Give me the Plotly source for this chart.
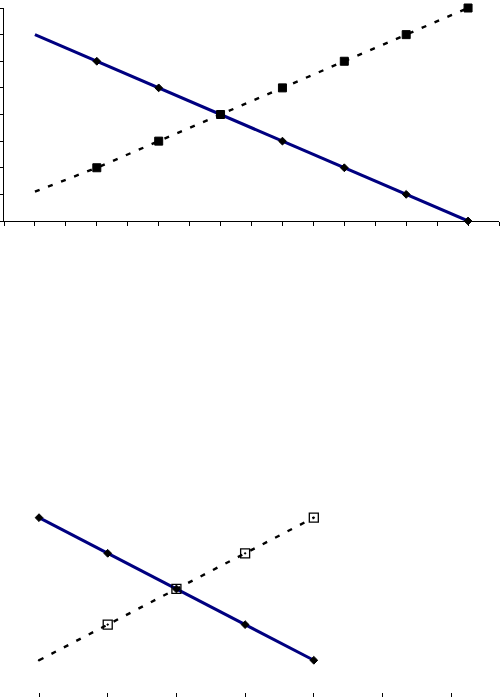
import plotly.graph_objs as go

# upper chart
top_x = [1, 2, 3, 4, 5, 6, 7, 8]
top_down = [7, 6, 5, 4, 3, 2, 1, 0]
top_up = [1.1, 2, 3, 4, 5, 6, 7, 8]

# lower chart
low_x = [1, 2, 3, 4, 5]
low_down = [5, 4, 3, 2, 1]
low_up = [1, 2, 3, 4, 5]

W, H = 500, 697
NAVY = "#000080"
DASH = "5px,9px"

fig = go.Figure()

# first point of each upper series shows no marker
# (opacity set explicitly: an array of sizes makes plotly default to 0.7)
fig.add_trace(go.Scatter(
    x=top_x, y=top_down, mode="lines+markers", cliponaxis=False,
    line=dict(color=NAVY, width=3),
    marker=dict(symbol="diamond", color="black", opacity=1,
                size=[0] + [6] * (len(top_x) - 1),
                line=dict(width=1, color="black")),
    xaxis="x", yaxis="y", showlegend=False
))
fig.add_trace(go.Scatter(
    x=top_x, y=top_up, mode="lines+markers", cliponaxis=False,
    line=dict(color="black", width=2.4, dash=DASH),
    marker=dict(symbol="square", color="black", opacity=1,
                size=[0] + [8] * (len(top_x) - 1),
                line=dict(width=1, color="black")),
    xaxis="x", yaxis="y", showlegend=False
))

fig.add_trace(go.Scatter(
    x=low_x, y=low_down, mode="lines+markers", cliponaxis=False,
    line=dict(color=NAVY, width=3),
    marker=dict(symbol="diamond", color="black", size=6, opacity=1,
                line=dict(width=1, color="black")),
    xaxis="x2", yaxis="y2", showlegend=False
))
fig.add_trace(go.Scatter(
    x=low_x, y=low_up, mode="lines+markers", cliponaxis=False,
    line=dict(color="black", width=2.4, dash=DASH),
    marker=dict(symbol="square-open-dot", color="black", opacity=1,
                size=[0] + [9] * (len(low_x) - 1),
                line=dict(width=1.3, color="black")),
    xaxis="x2", yaxis="y2", showlegend=False
))

fig.update_layout(
    width=W, height=H,
    margin=dict(l=0, r=0, t=0, b=0),
    paper_bgcolor="white", plot_bgcolor="white",
    xaxis=dict(
        domain=[4 / W, 499 / W], range=[0.5, 8.5],
        showgrid=False, zeroline=False, showticklabels=False,
        showline=True, linecolor="black", linewidth=1,
        ticks="outside", ticklen=4, tickcolor="black",
        tick0=0.5, dtick=0.5, anchor="y",
    ),
    yaxis=dict(
        domain=[(H - 221) / H, (H - 8) / H], range=[0, 8],
        showgrid=False, zeroline=False, showticklabels=False,
        showline=True, linecolor="black", linewidth=1,
        ticks="outside", ticklen=4, tickcolor="black",
        tick0=0, dtick=1, anchor="x",
    ),
    xaxis2=dict(
        domain=[0, 1], range=[0.432, 7.71],
        showgrid=False, zeroline=False, showticklabels=False,
        showline=False,
        ticks="inside", ticklen=4, tickcolor="black",
        tick0=1, dtick=1, anchor="y2",
    ),
    yaxis2=dict(
        domain=[0, (H - 482) / H], range=[-0.03, 6],
        showgrid=False, zeroline=False, showticklabels=False,
        showline=False, anchor="x2",
    ),
)

# drop the page's default body margin so the chart sits at the window corner
fig.write_html("out.html", config={"displayModeBar": False},
               post_script="document.body.style.margin='0';")
